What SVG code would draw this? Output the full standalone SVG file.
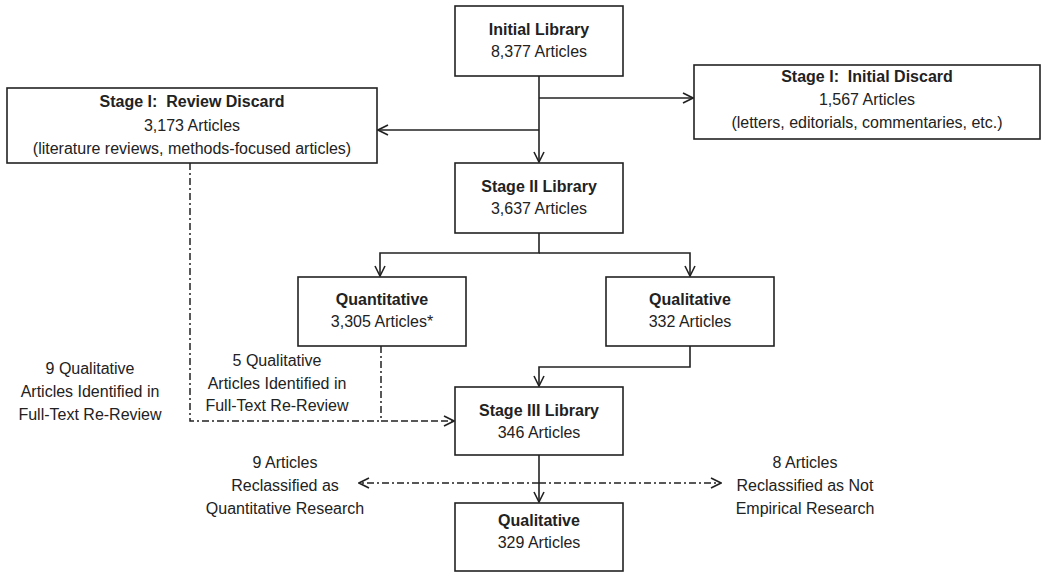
<svg xmlns="http://www.w3.org/2000/svg" width="1050" height="576" viewBox="0 0 1050 576">
<defs>
<marker id="arr" viewBox="0 0 12 12" refX="11" refY="6" markerWidth="12" markerHeight="12" markerUnits="userSpaceOnUse" orient="auto">
<polyline points="1,1 11,6 1,11" fill="none" stroke="#222" stroke-width="1.6"/>
</marker>
</defs>
<style>
rect{fill:#fff;stroke:#222;stroke-width:1.6}
text{font-family:"Liberation Sans",Arial,sans-serif;font-size:16px;fill:#222;text-anchor:middle;white-space:pre}
.b{font-weight:bold}
.c{fill:none;stroke:#222;stroke-width:1.6}
.dd{fill:none;stroke:#222;stroke-width:1.5;stroke-dasharray:7 3 2 3}
.d{fill:none;stroke:#222;stroke-width:1.5;stroke-dasharray:7 3}
</style>
<rect x="0" y="0" width="1050" height="576" style="stroke:none"/>
<g id="connectors">
<line class="c" x1="539" y1="76" x2="539" y2="162" marker-end="url(#arr)"/>
<line class="c" x1="539" y1="98" x2="693" y2="98" marker-end="url(#arr)"/>
<line class="c" x1="539" y1="130" x2="378" y2="130" marker-end="url(#arr)"/>
<polyline class="c" points="539,233 539,253 380,253 380,276" marker-end="url(#arr)"/>
<polyline class="c" points="539,253 690,253 690,276" marker-end="url(#arr)"/>
<polyline class="c" points="690,346 690,367 539,367 539,386" marker-end="url(#arr)"/>
<polyline class="dd" points="190,163 190,421 381,421"/>
<line class="dd" x1="381" y1="346" x2="381" y2="421"/>
<line class="d" x1="381" y1="421" x2="454" y2="421" marker-end="url(#arr)"/>
<line class="c" x1="539" y1="455" x2="539" y2="502" marker-end="url(#arr)"/>
<line class="dd" x1="539" y1="483" x2="359" y2="483" marker-end="url(#arr)"/>
<line class="dd" x1="539" y1="483" x2="721" y2="483" marker-end="url(#arr)"/>
</g>
<g id="initial-library">
<rect x="455" y="6" width="168" height="70"/>
<text x="539" y="35" class="b">Initial Library</text>
<text x="539" y="57">8,377 Articles</text>
</g>
<g id="initial-discard">
<rect x="694" y="65" width="346" height="74"/>
<text x="867" y="82" class="b">Stage I:  Initial Discard</text>
<text x="867" y="105">1,567 Articles</text>
<text x="867" y="128">(letters, editorials, commentaries, etc.)</text>
</g>
<g id="review-discard">
<rect x="7" y="88" width="370" height="75"/>
<text x="192" y="107" class="b">Stage I:  Review Discard</text>
<text x="192" y="131">3,173 Articles</text>
<text x="192" y="154">(literature reviews, methods-focused articles)</text>
</g>
<g id="stage2">
<rect x="455" y="163" width="168" height="70"/>
<text x="539" y="192" class="b">Stage II Library</text>
<text x="539" y="214">3,637 Articles</text>
</g>
<g id="quantitative">
<rect x="298" y="277" width="168" height="69"/>
<text x="382" y="305" class="b">Quantitative</text>
<text x="382" y="327">3,305 Articles*</text>
</g>
<g id="qualitative1">
<rect x="606" y="277" width="168" height="69"/>
<text x="690" y="305" class="b">Qualitative</text>
<text x="690" y="327">332 Articles</text>
</g>
<g id="stage3">
<rect x="455" y="387" width="168" height="68"/>
<text x="539" y="416" class="b">Stage III Library</text>
<text x="539" y="438">346 Articles</text>
</g>
<g id="qualitative2">
<rect x="455" y="503" width="168" height="68"/>
<text x="539" y="526" class="b">Qualitative</text>
<text x="539" y="548">329 Articles</text>
</g>
<g id="label-9q">
<text x="90" y="374">9 Qualitative</text>
<text x="90" y="397">Articles Identified in</text>
<text x="90" y="420">Full-Text Re-Review</text>
</g>
<g id="label-5q">
<text x="277" y="366">5 Qualitative</text>
<text x="277" y="389">Articles Identified in</text>
<text x="277" y="411">Full-Text Re-Review</text>
</g>
<g id="label-9a">
<text x="285" y="468">9 Articles</text>
<text x="285" y="491">Reclassified as</text>
<text x="285" y="514">Quantitative Research</text>
</g>
<g id="label-8a">
<text x="805" y="468">8 Articles</text>
<text x="805" y="491">Reclassified as Not</text>
<text x="805" y="514">Empirical Research</text>
</g>
</svg>
